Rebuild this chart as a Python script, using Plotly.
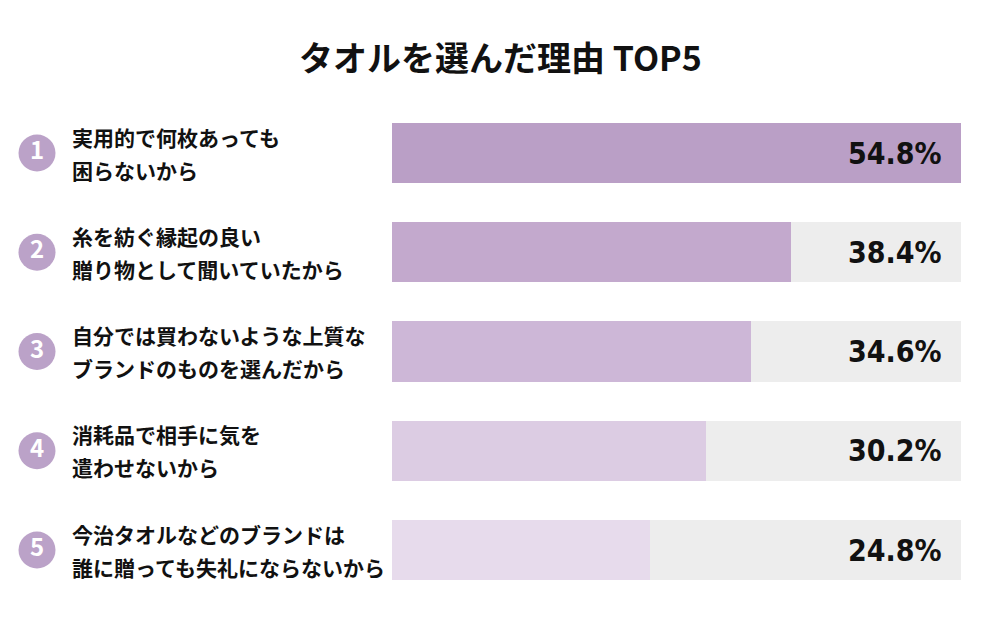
import plotly.graph_objects as go

title = "タオルを選んだ理由 TOP5"
ranks = [1, 2, 3, 4, 5]
line1 = ["実用的で何枚あっても", "糸を紡ぐ縁起の良い", "自分では買わないような上質な",
         "消耗品で相手に気を", "今治タオルなどのブランドは"]
line2 = ["困らないから", "贈り物として聞いていたから", "ブランドのものを選んだから",
         "遣わせないから", "誰に贈っても失礼にならないから"]
values = [54.8, 38.4, 34.6, 30.2, 24.8]
full_scale = 54.8
bar_colors = ["#BA9FC6", "#C3A9CD", "#CDB7D7", "#DCCCE3", "#E7DBEC"]
bg_color = "#EDEDED"
circle_color = "#BBA2C8"

JP = "Noto Sans CJK JP"
NUM = "DejaVu Sans Condensed, Liberation Sans Narrow, Roboto, sans-serif"

fig = go.Figure()
fig.add_trace(go.Bar(y=ranks, x=[full_scale] * len(ranks), orientation="h",
                     marker=dict(color=bg_color, line=dict(width=0)), width=0.605,
                     hoverinfo="skip", showlegend=False))
fig.add_trace(go.Bar(y=ranks, x=values, orientation="h",
                     marker=dict(color=bar_colors, line=dict(width=0)), width=0.605,
                     showlegend=False))
fig.add_trace(go.Scatter(x=[37] * len(ranks), y=ranks, xaxis="x2", mode="markers+text",
                         marker=dict(size=37, color=circle_color),
                         text=[str(r) for r in ranks], textposition="middle center",
                         textfont=dict(family=JP, size=24, color="white", weight="bold"),
                         showlegend=False, hoverinfo="skip"))

for r, a, b, v in zip(ranks, line1, line2, values):
    fig.add_annotation(x=70, y=r, xref="x2", yref="y", text=a, showarrow=False,
                       xanchor="left", yanchor="middle", yshift=16.5,
                       font=dict(family=JP, size=21, color="#111111", weight="bold"))
    fig.add_annotation(x=70, y=r, xref="x2", yref="y", text=b, showarrow=False,
                       xanchor="left", yanchor="middle", yshift=-16.5,
                       font=dict(family=JP, size=21, color="#111111", weight="bold"))
    fig.add_annotation(x=full_scale, y=r, xref="x", yref="y", text=f"{v:.1f}%",
                       showarrow=False, xanchor="right", yanchor="middle", xshift=-17,
                       font=dict(family=NUM, size=30, color="#111111", weight="bold"))

fig.add_annotation(x=0.5, y=1 - 57 / 619, xref="paper", yref="paper", text=title,
                   showarrow=False, xanchor="center", yanchor="middle",
                   font=dict(family=JP, size=34, color="#111111", weight="bold"))

fig.update_layout(
    width=1000, height=619, margin=dict(l=0, r=0, t=0, b=0),
    paper_bgcolor="white", plot_bgcolor="white", barmode="overlay", bargap=0,
    xaxis=dict(domain=[0.392, 0.961], range=[0, full_scale], visible=False, fixedrange=True),
    xaxis2=dict(domain=[0, 0.392], range=[0, 392], visible=False, anchor="y"),
    yaxis=dict(range=[5.695, -0.5416], visible=False),
)
fig.write_html("out.html")
